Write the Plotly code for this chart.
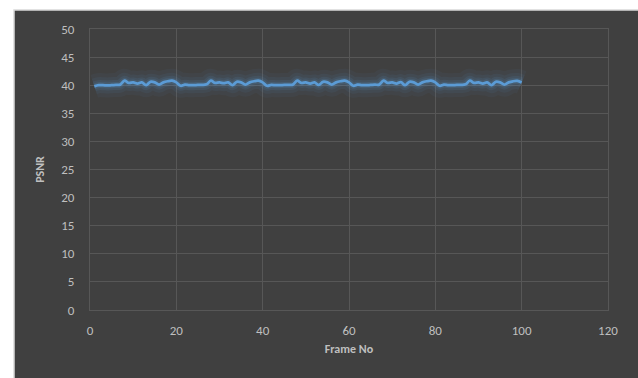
import plotly.graph_objects as go

frames = list(range(1, 101))
psnr = [
    39.8, 40.0, 40.0, 39.95, 40.0, 40.05, 40.1, 40.8, 40.4, 40.5,
    40.3, 40.5, 40.0, 40.6, 40.5, 40.1, 40.5, 40.7, 40.8, 40.5,
    39.9, 40.1, 40.0, 40.0, 40.05, 40.05, 40.15, 40.8, 40.4, 40.5,
    40.35, 40.5, 40.0, 40.6, 40.5, 40.1, 40.5, 40.7, 40.8, 40.5,
    39.9, 40.05, 40.0, 40.0, 40.05, 40.05, 40.1, 40.8, 40.4, 40.5,
    40.3, 40.5, 40.05, 40.6, 40.5, 40.1, 40.5, 40.7, 40.8, 40.5,
    39.9, 40.1, 40.0, 40.0, 40.05, 40.1, 40.1, 40.8, 40.4, 40.5,
    40.3, 40.55, 40.0, 40.6, 40.5, 40.1, 40.5, 40.7, 40.8, 40.5,
    39.9, 40.1, 40.0, 40.0, 40.05, 40.05, 40.15, 40.8, 40.4, 40.5,
    40.3, 40.5, 40.0, 40.6, 40.5, 40.1, 40.5, 40.7, 40.75, 40.5,
]
x_ticks = [0, 20, 40, 60, 80, 100, 120]
y_ticks = [0, 5, 10, 15, 20, 25, 30, 35, 40, 45, 50]

BG = "#404040"
GRID = "#575757"
TXT = "#bfbfbf"
LINE = "#5b9bd5"

fig = go.Figure()
# soft glow layers
for w, op in [(24, 0.05), (16, 0.07), (10, 0.10), (6, 0.15)]:
    fig.add_trace(go.Scatter(x=frames, y=psnr, mode="lines",
                             line=dict(color=LINE, width=w, shape="spline"),
                             opacity=op, hoverinfo="skip", showlegend=False))
fig.add_trace(go.Scatter(x=frames, y=psnr, mode="lines",
                         line=dict(color=LINE, width=2.75, shape="spline"),
                         showlegend=False))

fig.add_shape(type="rect", xref="paper", yref="paper",
              x0=-0.1467, x1=1.06, y0=-0.3, y1=1.0676,
              fillcolor=BG, line=dict(color="#d9d9d9", width=1.5), layer="below")

fig.update_layout(
    template="none",
    width=638, height=378,
    margin=dict(l=90, r=30, t=29, b=68, autoexpand=False),
    paper_bgcolor="white",
    plot_bgcolor=BG,
    font=dict(family="Carlito, Lato, Open Sans, sans-serif", size=13, color=TXT),
    xaxis=dict(range=[0, 120], tickvals=x_ticks, showgrid=True, gridcolor=GRID,
               gridwidth=1, zeroline=False, showline=True, linecolor=GRID,
               mirror=True, ticks="outside", ticklen=8, tickcolor="rgba(0,0,0,0)",
               automargin=False, tickfont=dict(size=13, color=TXT),
               title=dict(text="<b>Frame No</b>", font=dict(size=12, color=TXT), standoff=8)),
    yaxis=dict(range=[0, 50], tickvals=y_ticks, showgrid=True, gridcolor=GRID,
               gridwidth=1, zeroline=False, showline=True, linecolor=GRID,
               mirror=True, ticks="outside", ticklen=12, tickcolor="rgba(0,0,0,0)",
               automargin=False, tickfont=dict(size=13, color=TXT),
               title=dict(text="<b>PSNR</b>", font=dict(size=12, color=TXT), standoff=14)),
)

fig.write_html("out.html", config={"displayModeBar": False},
               post_script="document.body.style.margin='0';document.body.style.overflow='hidden';")
